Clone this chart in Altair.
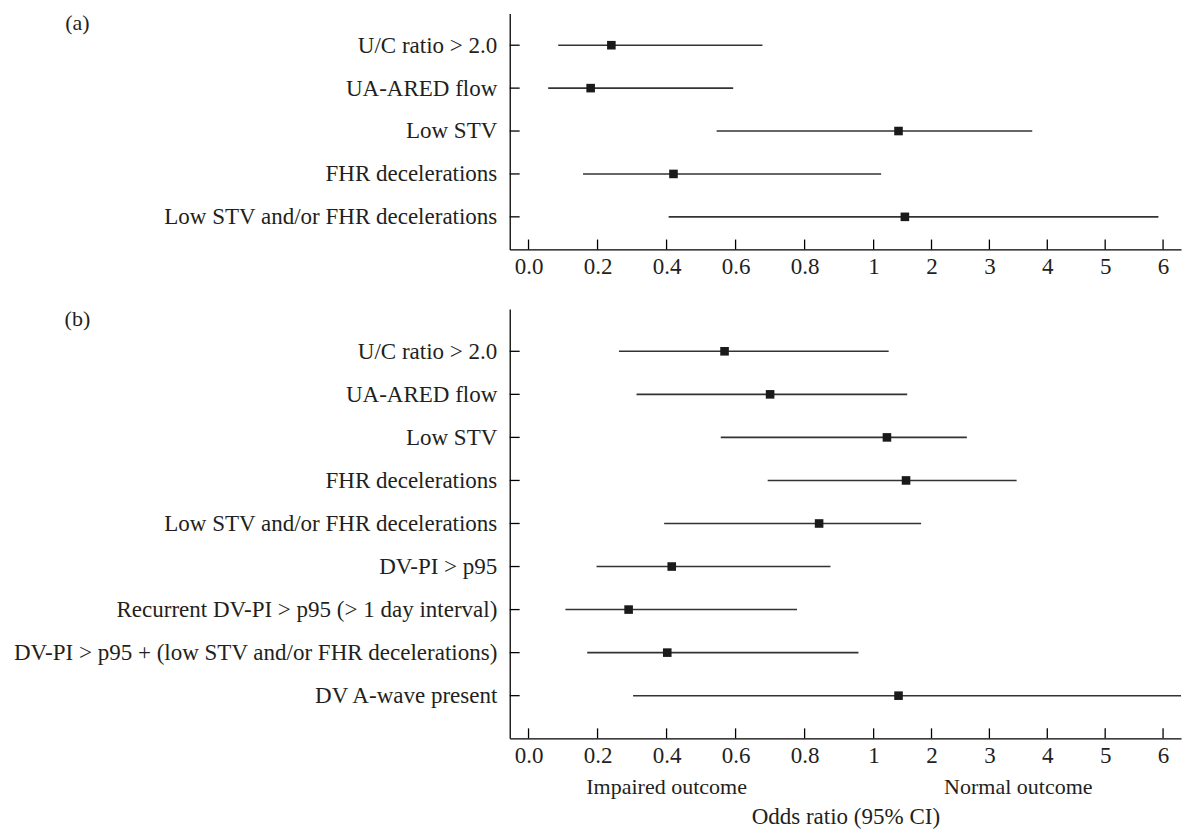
import json
import altair as alt
import pandas as pd

# ---------------- data ----------------
labels_a = ["U/C ratio > 2.0", "UA-ARED flow", "Low STV", "FHR decelerations",
            "Low STV and/or FHR decelerations"]
or_a = [0.24, 0.18, 1.43, 0.42, 1.54]
lo_a = [0.086, 0.057, 0.545, 0.158, 0.406]
hi_a = [0.678, 0.593, 3.74, 1.13, 5.92]

labels_b = ["U/C ratio > 2.0", "UA-ARED flow", "Low STV", "FHR decelerations",
            "Low STV and/or FHR decelerations", "DV-PI > p95",
            "Recurrent DV-PI > p95 (> 1 day interval)",
            "DV-PI > p95 + (low STV and/or FHR decelerations)",
            "DV A-wave present"]
or_b = [0.568, 0.70, 1.23, 1.56, 0.842, 0.415, 0.29, 0.402, 1.43]
lo_b = [0.262, 0.313, 0.557, 0.693, 0.393, 0.197, 0.107, 0.17, 0.303]
hi_b = [1.26, 1.58, 2.61, 3.47, 1.82, 0.875, 0.778, 0.956, 7.5]

tick_values = [0, 0.2, 0.4, 0.6, 0.8, 1, 2, 3, 4, 5, 6]
tick_labels = ["0.0", "0.2", "0.4", "0.6", "0.8", "1", "2", "3", "4", "5", "6"]
outcome_labels = ["Impaired outcome", "Normal outcome"]
outcome_pos = [0.40, 3.5]
x_title = "Odds ratio (95% CI)"

# ---------------- style ----------------
FONT = "Liberation Serif"
FS = 23.2
TXT = "#231f20"
W = 677
X_DOMAIN = [-0.0545, 1, 6.31]
X_RANGE = [0, 367, W]


def panel(tag, labels, lo, orv, hi, height, ydom, with_title):
    n = len(labels)
    df = pd.DataFrame({"row": list(range(1, n + 1)), "label": labels,
                       "lo": lo, "or": orv, "hi": hi})
    xscale = alt.Scale(domain=X_DOMAIN, range=X_RANGE, clamp=True, nice=False, zero=False)
    label_expr = "%s[indexof(%s, datum.value)]" % (json.dumps(tick_labels), json.dumps(tick_values))
    ax_kw = dict(values=tick_values, labelExpr=label_expr, ticks=False, grid=False,
                 domainColor="black", domainWidth=1.3, labelFont=FONT, labelFontSize=FS,
                 labelColor=TXT, labelPadding=24, labelBaseline="alphabetic",
                 labelFlush=False, labelOverlap=False)
    if with_title:
        ax_kw.update(title=x_title, titleFont=FONT, titleFontSize=FS, titleFontWeight="normal",
                     titleColor=TXT, titleY=86, titleBaseline="alphabetic")
    else:
        ax_kw.update(title=None)
    xaxis = alt.Axis(**ax_kw)

    yscale = alt.Scale(domain=ydom, reverse=True, nice=False, zero=False)
    yaxis = alt.Axis(values=list(range(1, n + 1)),
                     labelExpr="%s[datum.value - 1]" % json.dumps(labels),
                     ticks=False, grid=False, domainColor="black", domainWidth=1.3,
                     labelFont=FONT, labelFontSize=FS, labelColor=TXT, labelPadding=13,
                     labelLimit=1000, title=None)

    X = lambda f: alt.X(f, scale=xscale, axis=xaxis)
    Y = alt.Y("row:Q", scale=yscale, axis=yaxis)

    ci = alt.Chart(df).mark_rule(color="#333333", strokeWidth=1.6).encode(
        x=X("lo:Q"), x2="hi:Q", y=Y)
    pts = alt.Chart(df).mark_square(size=75, color="#1a1a1a", opacity=1).encode(
        x=X("or:Q"), y=Y)
    yticks = alt.Chart(df).mark_rule(color="black", strokeWidth=1.3).encode(
        x=alt.value(0), x2=alt.value(10), y=Y)
    xticks = alt.Chart(pd.DataFrame({"v": tick_values})).mark_rule(
        color="black", strokeWidth=1.3).encode(
        x=X("v:Q"), y=alt.value(height), y2=alt.value(height - 10))
    tag_df = pd.DataFrame({"t": [tag]})
    tag_txt = alt.Chart(tag_df).mark_text(font=FONT, fontSize=FS - 1, color=TXT,
                                          align="center", baseline="middle").encode(
        x=alt.value(-436), y=alt.value(10), text="t:N")
    layers = [ci, pts, yticks, xticks, tag_txt]
    if with_title:
        odf = pd.DataFrame({"label": outcome_labels, "x": outcome_pos})
        otxt = alt.Chart(odf).mark_text(font=FONT, fontSize=FS - 1, color=TXT,
                                        align="center", baseline="alphabetic").encode(
            x=X("x:Q"), y=alt.value(height + 56), text="label:N")
        layers.append(otxt)
    return alt.layer(*layers).properties(
        width=W, height=height,
        view=alt.ViewBackground(strokeOpacity=0, strokeWidth=0, fill="white"))


pa = panel("(a)", labels_a, lo_a, or_a, hi_a, 238, [0.26, 5.76], False)
pb = panel("(b)", labels_b, lo_b, or_b, hi_b, 433, [0.016, 9.99], True)

chart = alt.vconcat(pa, pb, spacing=30).properties(
    padding={"left": 5, "top": 1, "right": 0, "bottom": 0}
).configure_view(strokeOpacity=0, strokeWidth=0).configure(background="white")

chart.save("out.html", embed_options={"renderer": "svg", "actions": False})
